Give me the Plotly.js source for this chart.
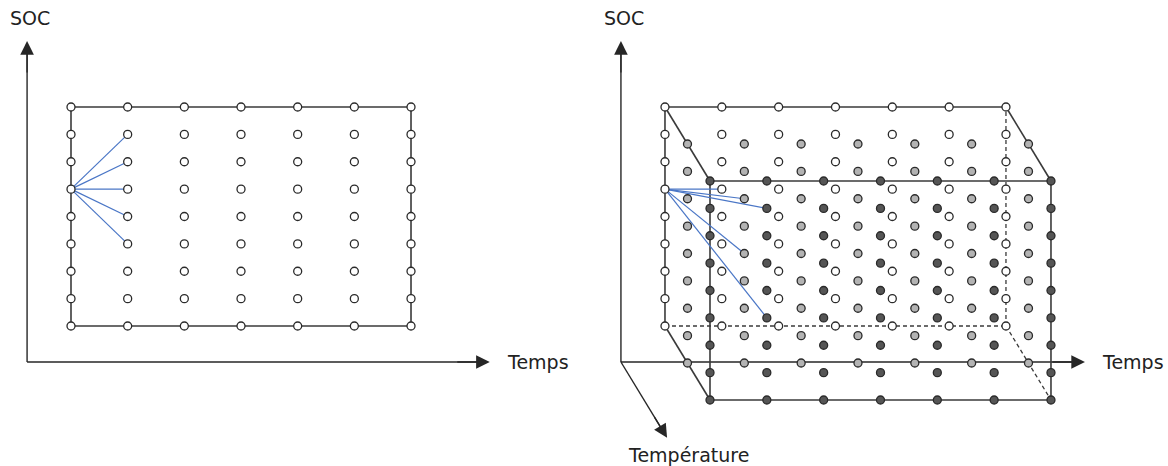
<!DOCTYPE html>
<html><head><meta charset="utf-8">
<script src="https://cdn.plot.ly/plotly-3.0.1.min.js"></script>
<style>html,body{margin:0;padding:0;background:#fff;overflow:hidden}#chart{width:1168px;height:466px}</style>
</head><body><div id="chart"></div>
<script>
// ---- data ----
const timeSteps = [0, 1, 2, 3, 4, 5, 6];
const socLevels = [0, 1, 2, 3, 4, 5, 6, 7, 8];
const tempLevels = [0, 1, 2];
const layerFills = ['#ffffff', '#b3b3b3', '#555555'];
const linkFromTime = 0, linkFromSoc = 5, linkFromTemp = 0;
const linkToTime2D = [1, 1, 1, 1, 1];
const linkToSoc2D = [7, 6, 5, 4, 3];
const linkToTime3D = [1, 1, 1, 1, 1];
const linkToSoc3D = [5, 6, 7, 4, 3];
const linkToTemp3D = [0, 1, 2, 1, 2];
const labelSoc = 'SOC', labelTime = 'Temps', labelTemp = 'Température';

// ---- style / layout constants ----
const DEPTH_DX = 0.396, DEPTH_DY = 1.3516;   // oblique projection of the temperature axis
const AX_T = -0.775, AX_S = -1.315;           // axis origin (time, soc units)
const TIP_S = 10.41, TIP_T = 7.39, TEMP_TIP = 2.05;
const LINE = '#3a3a3a', AXC = '#262626', BLUE = '#4a76c6';
const FONT = {family: 'DejaVu Sans, Verdana, sans-serif', size: 19, color: '#222'};

const tMin = timeSteps[0], tMax = timeSteps[timeSteps.length - 1];
const sMin = socLevels[0], sMax = socLevels[socLevels.length - 1];
const dMin = tempLevels[0], dMax = tempLevels[tempLevels.length - 1];
const proj = (t, s, d) => [t + d * DEPTH_DX, s - d * DEPTH_DY];

function seg(list, xa) { // list of [[t,s,d],[t,s,d]]
  const x = [], y = [];
  list.forEach(([a, b]) => {
    const p = proj(...a), q = proj(...b);
    x.push(p[0], q[0], null); y.push(p[1], q[1], null);
  });
  return {x, y, xa};
}
function lineTrace(sg, color, width, dash) {
  return {type: 'scatter', mode: 'lines', x: sg.x, y: sg.y, xaxis: sg.xa, yaxis: 'y',
    line: {color, width, dash: dash || 'solid'}, hoverinfo: 'skip', showlegend: false, connectgaps: false};
}
function dotTrace(d, fill, xa) {
  const x = [], y = [];
  timeSteps.forEach(t => socLevels.forEach(s => { const p = proj(t, s, d); x.push(p[0]); y.push(p[1]); }));
  return {type: 'scatter', mode: 'markers', x, y, xaxis: xa, yaxis: 'y', hoverinfo: 'skip', showlegend: false,
    marker: {size: 8, color: fill, line: {color: '#2a2a2a', width: 1.3}}};
}

const traces = [];
// ---------- left panel (2D) ----------
const ax2D = seg([[[AX_T, TIP_S - 0.3, 0], [AX_T, AX_S, 0]], [[AX_T, AX_S, 0], [TIP_T - 0.2, AX_S, 0]]], 'x');
traces.push(lineTrace(ax2D, AXC, 1.4));
traces.push(lineTrace(seg([
  [[tMin, sMax, 0], [tMax, sMax, 0]], [[tMin, sMin, 0], [tMax, sMin, 0]],
  [[tMin, sMin, 0], [tMin, sMax, 0]], [[tMax, sMin, 0], [tMax, sMax, 0]]], 'x'), LINE, 1.6));
traces.push(lineTrace(seg(linkToTime2D.map((t, i) => [[linkFromTime, linkFromSoc, 0], [t, linkToSoc2D[i], 0]]), 'x'), BLUE, 1.2));
traces.push(dotTrace(0, layerFills[0], 'x'));

// ---------- right panel (3D) ----------
const ax3D = seg([
  [[AX_T, TIP_S - 0.3, 0], [AX_T, AX_S, 0]],
  [[AX_T, AX_S, 0], [TIP_T - 0.2, AX_S, 0]],
  [[AX_T, AX_S, 0], [AX_T, AX_S, TEMP_TIP - 0.1]]], 'x2');
traces.push(lineTrace(ax3D, AXC, 1.4));
traces.push(lineTrace(seg([
  [[tMin, sMax, dMin], [tMax, sMax, dMin]], [[tMin, sMin, dMin], [tMin, sMax, dMin]],
  [[tMin, sMax, dMax], [tMax, sMax, dMax]], [[tMin, sMin, dMax], [tMax, sMin, dMax]],
  [[tMin, sMin, dMax], [tMin, sMax, dMax]], [[tMax, sMin, dMax], [tMax, sMax, dMax]],
  [[tMin, sMax, dMin], [tMin, sMax, dMax]], [[tMax, sMax, dMin], [tMax, sMax, dMax]],
  [[tMin, sMin, dMin], [tMin, sMin, dMax]]], 'x2'), LINE, 1.6));
traces.push(lineTrace(seg([
  [[tMin, sMin, dMin], [tMax, sMin, dMin]], [[tMax, sMin, dMin], [tMax, sMax, dMin]],
  [[tMax, sMin, dMin], [tMax, sMin, dMax]]], 'x2'), LINE, 1.3, '4px,3px'));
traces.push(lineTrace(seg(linkToTime3D.map((t, i) => [[linkFromTime, linkFromSoc, linkFromTemp], [t, linkToSoc3D[i], linkToTemp3D[i]]]), 'x2'), BLUE, 1.2));
tempLevels.forEach(d => traces.push(dotTrace(d, layerFills[d], 'x2')));

// ---------- arrows & labels ----------
function arrow(xa, tip, tail) {
  return {xref: xa, yref: 'y', axref: xa, ayref: 'y', x: tip[0], y: tip[1], ax: tail[0], ay: tail[1],
    showarrow: true, arrowhead: 2, arrowsize: 2.1, arrowwidth: 1.3, arrowcolor: AXC, text: ''};
}
const annotations = [];
['x', 'x2'].forEach(xa => {
  annotations.push(arrow(xa, [AX_T, TIP_S], [AX_T, TIP_S - 1.2]));
  annotations.push(arrow(xa, [TIP_T, AX_S], [TIP_T - 0.6, AX_S]));
  annotations.push({xref: xa, yref: 'y', x: AX_T, y: 11.25, text: labelSoc, showarrow: false,
    xanchor: 'center', yanchor: 'middle', xshift: 3, font: FONT});
  annotations.push({xref: xa, yref: 'y', x: TIP_T, y: AX_S, text: labelTime, showarrow: false,
    xanchor: 'left', yanchor: 'middle', xshift: 15, font: FONT});
});
const tTip = proj(AX_T, AX_S, TEMP_TIP), tTail = proj(AX_T, AX_S, TEMP_TIP - 0.6);
annotations.push(arrow('x2', tTip, tTail));
annotations.push({xref: 'x2', yref: 'y', x: tTip[0], y: tTip[1], text: labelTemp, showarrow: false,
  xanchor: 'center', yanchor: 'middle', xshift: 21, yshift: -17, font: FONT});

const hidden = {visible: false, showgrid: false, zeroline: false, fixedrange: true};
const layout = {
  width: 1168, height: 466, margin: {l: 0, r: 0, t: 0, b: 0},
  paper_bgcolor: '#fff', plot_bgcolor: '#fff', showlegend: false,
  xaxis: Object.assign({range: [-1.2529, 19.358], domain: [0, 1]}, hidden),
  xaxis2: Object.assign({range: [-11.701, 8.851], overlaying: 'x', anchor: 'y'}, hidden),
  yaxis: Object.assign({range: [-5.114, 11.909], domain: [0, 1]}, hidden),
  annotations
};
Plotly.newPlot('chart', traces, layout, {staticPlot: true, displayModeBar: false});
</script></body></html>
